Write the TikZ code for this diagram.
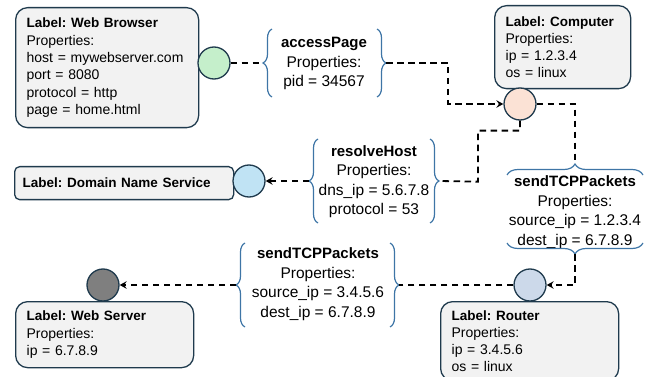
\documentclass[tikz,border=0pt]{standalone}
\usepackage{fontspec}
\setmainfont{Liberation Sans}
\usetikzlibrary{decorations.pathreplacing,arrows.meta}
\frenchspacing

\definecolor{boxline}{HTML}{1F3A4D}
\definecolor{boxfill}{HTML}{F2F2F2}
\definecolor{bracecol}{HTML}{3E75A6}
\definecolor{cgreen}{HTML}{C5EFCB}
\definecolor{cpeach}{HTML}{FBE2D5}
\definecolor{cblue}{HTML}{C0E3F4}
\definecolor{cgray}{HTML}{7F7F7F}
\definecolor{csteel}{HTML}{CCD9EA}

% bold first line of an entity box / of a message
\newcommand\entlabel[1]{{\fontsize{13.5}{17.3}\selectfont\bfseries #1}}
\newcommand\msgtitle[1]{{\fontsize{15}{19.5}\selectfont\bfseries #1}}

\begin{document}
\begin{tikzpicture}[x=1pt,y=-1pt,
  entity/.style={draw=boxline, fill=boxfill, line width=1.3pt, rounded corners=12pt,
    align=left, inner xsep=11pt, inner ysep=0pt, anchor=north west,
    font=\fontsize{14}{17.3}\selectfont},
  port/.style={circle, draw=boxline, line width=1.3pt, inner sep=0pt, minimum size=32pt},
  msg/.style={align=center, inner sep=0pt, font=\fontsize{15.5}{19.5}\selectfont},
  msgbrace/.style={decorate, decoration={brace, amplitude=#1}, draw=bracecol, line width=1.2pt},
  msgbrace/.default=9pt,
  flow/.style={draw=black, line width=1.8pt, dash pattern=on 6.5pt off 4.5pt},
  tip/.style={-{Stealth[length=7pt, width=7.5pt, inset=2.5pt]}}
]
\useasboundingbox (0,0) rectangle (659,377);

% entities
\node[entity, text width=161pt, minimum height=120pt] (browser) at (15,7)
  {\entlabel{Label: Web Browser}\\Properties:\\host = mywebserver.com\\port = 8080\\protocol = http\\page = home.html};
\node[entity, text width=114pt, minimum height=83pt] (computer) at (494,5)
  {\entlabel{Label: Computer}\\Properties:\\ip = 1.2.3.4\\os = linux};
\node[entity, text width=203pt, inner xsep=8pt, minimum height=33pt, rounded corners=5pt] (dns) at (14,166)
  {\entlabel{Label: Domain Name Service}};
\node[entity, text width=156pt, minimum height=66pt] (server) at (15,301)
  {\entlabel{Label: Web Server}\\Properties:\\ip = 6.7.8.9};
\node[entity, text width=156pt, minimum height=79pt] (router) at (440,301)
  {\entlabel{Label: Router}\\Properties:\\ip = 3.4.5.6\\os = linux};

% ports
\node[port, fill=cgreen] (browserP) at (214,63) {};
\node[port, fill=cpeach] (computerP) at (520,104) {};
\node[port, fill=cblue] (dnsP) at (249,181) {};
\node[port, fill=cgray] (serverP) at (103,285) {};
\node[port, fill=csteel] (routerP) at (530,285) {};

% messages
\node[msg] (access) at (324,63.5) {\msgtitle{accessPage}\\Properties:\\pid = 34567};
\node[msg] (resolve) at (374,181.5) {\msgtitle{resolveHost}\\Properties:\\dns\_ip = 5.6.7.8\\protocol = 53};
\node[msg] (tcpA) at (575,212) {\msgtitle{sendTCPPackets}\\Properties:\\source\_ip = 1.2.3.4\\dest\_ip = 6.7.8.9};
\node[msg] (tcpB) at (318,284) {\msgtitle{sendTCPPackets}\\Properties:\\source\_ip = 3.4.5.6\\dest\_ip = 6.7.8.9};

% braces around the messages and their tips
\draw[msgbrace] (272,97) -- (272,29);
\draw[msgbrace] (377,29) -- (377,97);
\coordinate (accessL) at (263,63);
\coordinate (accessR) at (386,63);

\draw[msgbrace] (318,223) -- (318,139);
\draw[msgbrace] (430,139) -- (430,223);
\coordinate (resolveL) at (309,181);
\coordinate (resolveR) at (439,181);

\draw[msgbrace=11pt] (507,175) -- (643,175);
\draw[msgbrace=11pt] (643,243) -- (507,243);
\coordinate (tcpAtop) at (575,164);
\coordinate (tcpAbot) at (575,254);

\draw[msgbrace] (245,327) -- (245,243);
\draw[msgbrace] (390,243) -- (390,327);
\coordinate (tcpBL) at (236,285);
\coordinate (tcpBR) at (399,285);

% message flow
\draw[flow] (browserP) -- (accessL);
\draw[flow, tip] (accessR) -- ++(62,0) |- (computerP);
\draw[flow] (computerP) -| (tcpAtop);
\draw[flow, tip] (tcpAbot) |- (routerP);
\draw[flow] (routerP) -- (tcpBR);
\draw[flow, tip] (tcpBL) -- (serverP);
\draw[flow] (computerP.south) -- ++(0,10) -| ++(-42,51) -- (resolveR);
\draw[flow, tip] (resolveL) -- (dnsP);
\end{tikzpicture}
\end{document}
